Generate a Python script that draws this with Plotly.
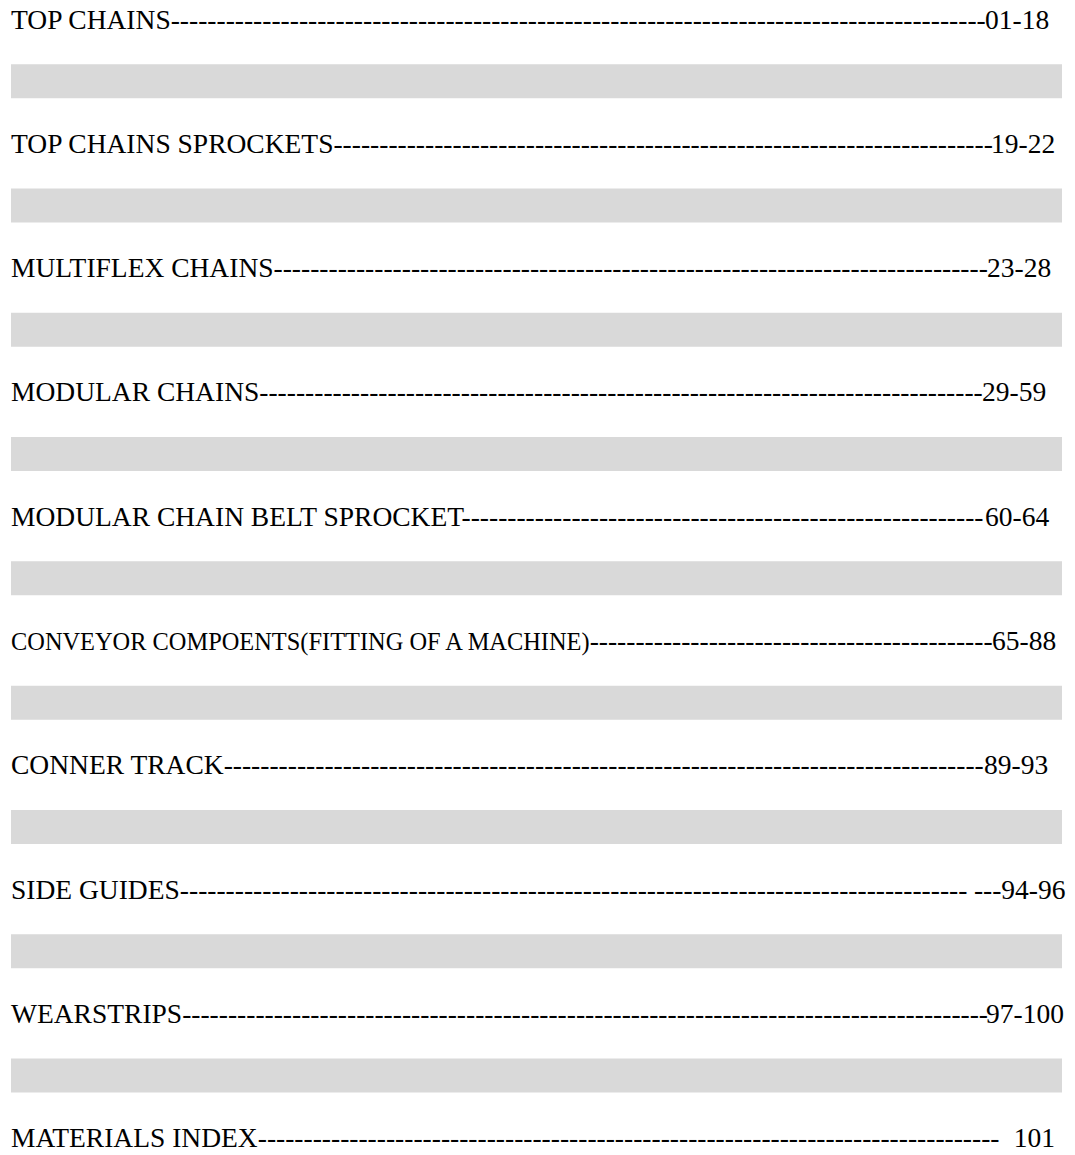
import plotly.graph_objects as go

# ---- content (table of contents) ----
titles = [
    "TOP CHAINS",
    "TOP CHAINS SPROCKETS",
    "MULTIFLEX CHAINS",
    "MODULAR CHAINS",
    "MODULAR CHAIN BELT SPROCKET",
    "CONVEYOR COMPOENTS(FITTING OF A MACHINE)",
    "CONNER TRACK",
    "SIDE GUIDES",
    "WEARSTRIPS",
    "MATERIALS INDEX",
]
pages = ["01-18", "19-22", "23-28", "29-59", "60-64", "65-88", "89-93", "94-96", "97-100", "101"]
dash_counts = [89, 72, 78, 79, 57, 44, 83, 86, 88, 81]
gap_before_pages = ["", "", "", "", "", "", "", "\u00a0---", "", "\u00a0\u00a0"]

# ---- layout / style ----
title_sizes = [None, None, None, None, None, 24.4, None, None, None, None]
page_right_px = [1049.5, 1055.5, 1051.5, 1047, 1049.5, 1057, 1048.5, 1066.5, 1065, 1056]

W, H = 1075, 1155
ROW0, STEP = 19, 124.3
FONT = dict(family="Liberation Serif, Times New Roman, serif", size=27.5, color="#000000")
BAND_H = 34 / STEP

n = len(titles)
fig = go.Figure()
fig.add_trace(go.Scatter(x=[None], y=[None], showlegend=False, hoverinfo="skip"))

annotations = []
shapes = []
for i in range(n):
    title = titles[i]
    if title_sizes[i]:
        title = '<span style="font-size:%spx">%s</span>' % (title_sizes[i], title)
    annotations.append(dict(
        x=10, y=i, xref="x", yref="y", xanchor="left", yanchor="middle",
        text=title + "-" * dash_counts[i],
        showarrow=False, font=FONT, borderpad=0, align="left",
    ))
    annotations.append(dict(
        x=page_right_px[i], y=i, xref="x", yref="y", xanchor="right", yanchor="middle",
        text=gap_before_pages[i] + pages[i],
        showarrow=False, font=FONT, borderpad=0, align="right",
    ))
    if i < n - 1:
        shapes.append(dict(
            type="rect", xref="x", yref="y", x0=11, x1=1062,
            y0=i + 0.5 - BAND_H / 2, y1=i + 0.5 + BAND_H / 2,
            fillcolor="#d9d9d9", line=dict(width=0), layer="below",
        ))

fig.update_layout(
    width=W, height=H,
    margin=dict(l=0, r=0, t=0, b=0),
    paper_bgcolor="#ffffff", plot_bgcolor="#ffffff",
    xaxis=dict(range=[0, W], visible=False, fixedrange=True),
    yaxis=dict(range=[(H - ROW0) / STEP, -ROW0 / STEP], visible=False, fixedrange=True),
    annotations=annotations, shapes=shapes, showlegend=False,
)
fig.write_html("out.html", config={"displayModeBar": False},
               post_script="document.body.style.margin='0';")
